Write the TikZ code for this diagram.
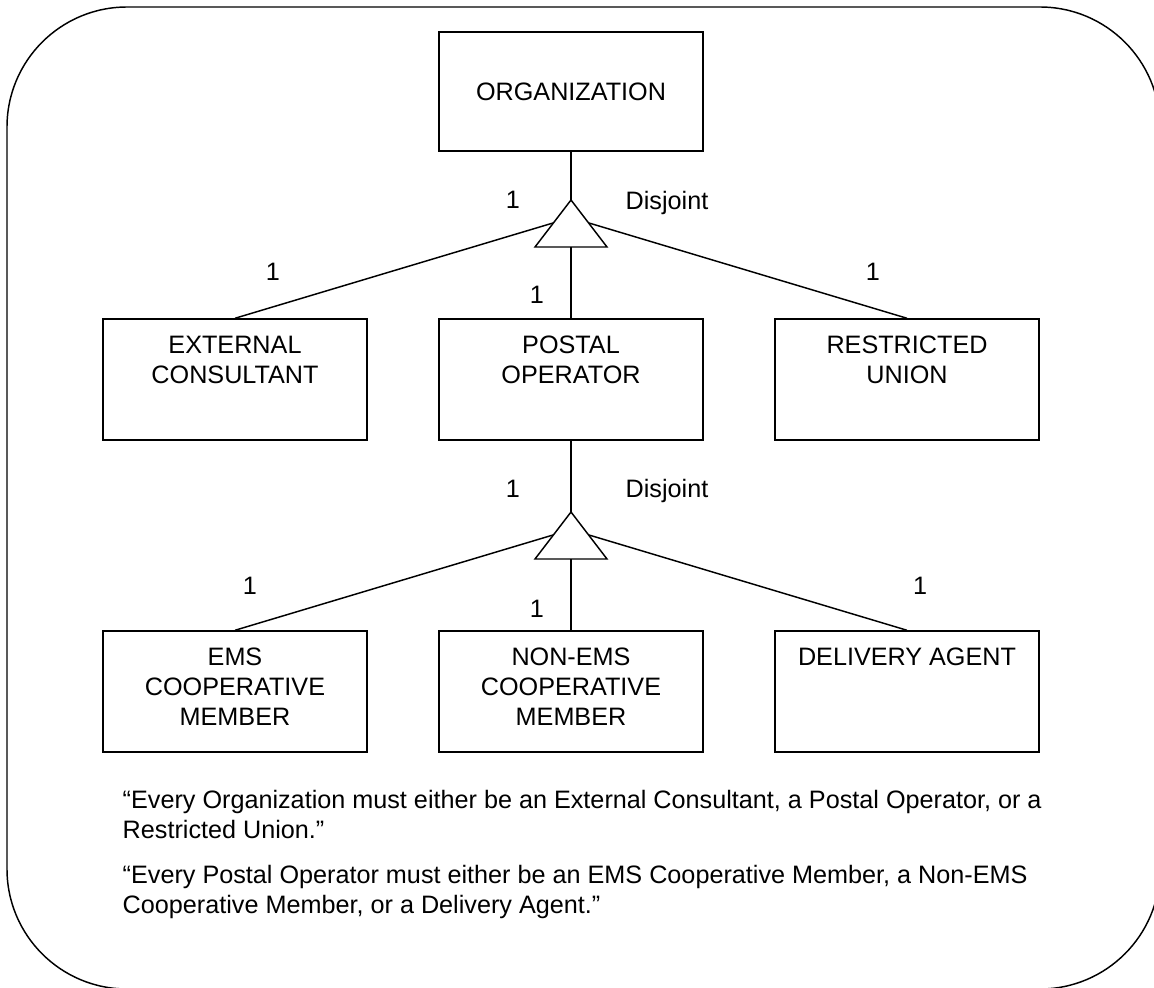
\documentclass[tikz,border=0pt]{standalone}
\usepackage{fontspec}
\setmainfont{Liberation Sans}
\usepackage{tikz}
\usetikzlibrary{positioning}

\tikzset{
  entity/.style = {draw, minimum width = 198pt, minimum height = 90.75pt, inner sep = 0pt},
  entitytext/.style = {align = center, inner sep = 0pt, anchor = north},
  mult/.style = {inner sep = 0pt, anchor = base},
  rule/.style = {inner sep = 0pt, anchor = base west, align = left},
}

\begin{document}
\begin{tikzpicture}[x = 0.75pt, y = -0.75pt, line width = 1.1pt, font = \fontsize{18.9}{22.5}\selectfont]
\clip (0,0) rectangle (1154,988);
\draw[rounded corners = 90pt] (7,7) rectangle (1160,989);

% supertype
\node[entity, minimum height = 89.25pt] (org) at (571,91.5) {ORGANIZATION};

% first level
\node[entity] (ext) at (235,379.5) {};
\node[entitytext, below = 12.75pt of ext.north] (extT) {EXTERNAL\\CONSULTANT};
\node[entity] (post) at (571,379.5) {};
\node[entitytext, below = 12.75pt of post.north] (postT) {POSTAL\\OPERATOR};
\node[entity] (restr) at (907,379.5) {};
\node[entitytext, below = 12.75pt of restr.north] (restrT) {RESTRICTED\\UNION};

% second level
\node[entity] (ems) at (235,691.5) {};
\node[entitytext, below = 12.75pt of ems.north] (emsT) {EMS\\COOPERATIVE\\MEMBER};
\node[entity] (nonems) at (571,691.5) {};
\node[entitytext, below = 12.75pt of nonems.north] (nonemsT) {NON-EMS\\COOPERATIVE\\MEMBER};
\node[entity] (deliv) at (907,691.5) {};
\node[entitytext, below = 12.75pt of deliv.north] (delivT) {DELIVERY AGENT};

% generalization triangles
\coordinate (ga) at (571,200);
\coordinate (gl) at (553,223);
\coordinate (gr) at (589,223);
\coordinate (gb) at (571,247);
\draw (ga) -- (607,247) -- (535,247) -- cycle;
\coordinate (ha) at (571,512);
\coordinate (hl) at (553,535);
\coordinate (hr) at (589,535);
\coordinate (hb) at (571,559);
\draw (ha) -- (607,559) -- (535,559) -- cycle;

\draw (org.south) -- (ga);
\draw (gb) -- (post.north);
\draw (gl) -- (ext.north);
\draw (gr) -- (restr.north);
\draw (post.south) -- (ha);
\draw (hb) -- (nonems.north);
\draw (hl) -- (ems.north);
\draw (hr) -- (deliv.north);

% multiplicities
\node[mult] (m1) at (513,209) {1};
\node[mult] (d1) at (667,210) {Disjoint};
\node[mult] (m2) at (273,281) {1};
\node[mult] (m3) at (537,304) {1};
\node[mult] (m4) at (873,281) {1};
\node[mult] (m5) at (513,497) {1};
\node[mult] (d2) at (667,497) {Disjoint};
\node[mult] (m6) at (250,594) {1};
\node[mult] (m7) at (537,617) {1};
\node[mult] (m8) at (920,594) {1};

% constraints
\node[rule] (r1) at (122,838) {“Every Organization must either be an External Consultant, a Postal Operator, or a\\Restricted Union.”};
\node[rule] (r2) at (122,913) {“Every Postal Operator must either be an EMS Cooperative Member, a Non-EMS\\Cooperative Member, or a Delivery Agent.”};
\end{tikzpicture}
\end{document}
